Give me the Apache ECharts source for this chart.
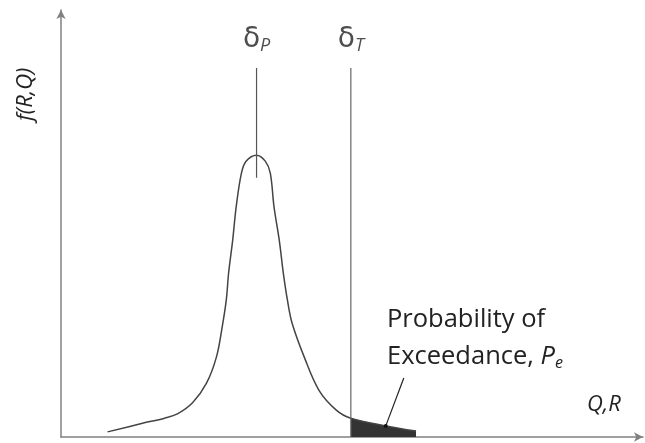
<!DOCTYPE html>
<html><head><meta charset="utf-8">
<script src="https://cdn.jsdelivr.net/npm/echarts@6/dist/echarts.min.js"></script>
<style>html,body{margin:0;padding:0;background:#fff}#c{width:645px;height:443px}</style>
</head><body><div id="c"></div>
<script>
// Density curve f(R,Q) (x: Q,R in 0-100 units, y: density in 0-100 units)
var curveX = [8.0, 14.0, 17.8, 20.0, 22.6, 25.0, 26.7, 27.7, 28.4, 28.8, 29.5, 30.1, 31.0, 31.8, 33.6, 35.1, 35.96, 36.6, 37.5, 38.2, 38.9, 39.7, 41.8, 44.3, 47.3, 49.8, 55.8, 61.0];
var curveY = [1.2, 3.2, 4.4, 5.4, 8.0, 12.6, 18.7, 25.8, 32.1, 38.4, 46.1, 53.9, 61.8, 64.6, 66.0, 64.6, 61.8, 53.9, 46.1, 38.4, 32.1, 26.7, 18.7, 11.0, 6.3, 4.4, 2.6, 1.4];
var deltaP = 33.6;   // predicted value
var deltaT = 49.8;   // threshold
var markerTop = 86.4;
var deltaPLineBottom = 60.7;
var pointerX = [58.9, 55.8];
var pointerY = [13.8, 2.6];

var curve = curveX.map(function(x, i){ return [x, curveY[i]]; });
var tail = curve.filter(function(p){ return p[0] >= deltaT; });

var chart = echarts.init(document.getElementById('c'));
var font = '"Open Sans", sans-serif';
chart.setOption({
  animation: false,
  grid: {left: 61, right: 2, top: 10, bottom: 6},
  xAxis: {type: 'value', min: 0, max: 100,
    axisLine: {lineStyle: {color: '#808080', width: 1.5}, symbol: ['none', 'arrow'], symbolSize: [7, 9]},
    axisTick: {show: false}, axisLabel: {show: false}, splitLine: {show: false}},
  yAxis: {type: 'value', min: 0, max: 100,
    axisLine: {show: true, lineStyle: {color: '#808080', width: 1.5}, symbol: ['none', 'arrow'], symbolSize: [7, 9]},
    axisTick: {show: false}, axisLabel: {show: false}, splitLine: {show: false}},
  series: [
    {type: 'line', data: tail, smooth: 0.35, symbol: 'none', lineStyle: {width: 0},
     areaStyle: {color: '#333333', opacity: 1}, z: 2},
    {type: 'line', data: curve, smooth: 0.35, symbol: 'none',
     lineStyle: {color: '#444', width: 1.5}, z: 3},
    {type: 'line', data: [[deltaP, deltaPLineBottom], [deltaP, markerTop]], symbol: 'none',
     lineStyle: {color: '#555', width: 1.2}, z: 4},
    {type: 'line', data: [[deltaT, 0], [deltaT, markerTop]], symbol: 'none',
     lineStyle: {color: '#666', width: 1.2}, z: 4},
    {type: 'line', data: [{value: [pointerX[0], pointerY[0]], symbol: 'none'}, {value: [pointerX[1], pointerY[1]], symbol: 'circle'}],
     symbolSize: 4, showSymbol: true,
     itemStyle: {color: '#111'}, lineStyle: {color: '#222', width: 1.2}, z: 5},
    {type: 'scatter', symbolSize: 0, z: 6,
     data: [
       {value: [deltaP, 93], label: {formatter: 'δ{s|P}'}},
       {value: [deltaT, 93], label: {formatter: 'δ{s|T}'}}
     ],
     label: {show: true, position: 'inside', color: '#222', fontSize: 28, fontFamily: 'DejaVu Sans',
       rich: {s: {fontSize: 18, fontStyle: 'italic', fontFamily: font, color: '#222', padding: [12, 0, 0, 0]}}}
    }
  ],
  graphic: [
    {type: 'text', left: 387, top: 307, style: {text: 'Probability of', font: '25.5px ' + font, fill: '#222'}},
    {type: 'text', left: 387, top: 344, style: {text: 'Exceedance, {p|P}{e|e}', font: '25.5px ' + font, fill: '#222',
      rich: {p: {fontStyle: 'italic', fontSize: 25.5, fontFamily: font}, e: {fontStyle: 'italic', fontSize: 16, fontFamily: font, padding: [12, 0, 0, 0]}}}},
    {type: 'text', left: 587, top: 394, style: {text: 'Q,R', font: 'italic 22px ' + font, fill: '#222'}},
    {type: 'text', x: 15, y: 121, rotation: Math.PI / 2, style: {text: 'f(R,Q)', font: 'italic 22px ' + font, fill: '#222'}}
  ]
});
</script></body></html>
